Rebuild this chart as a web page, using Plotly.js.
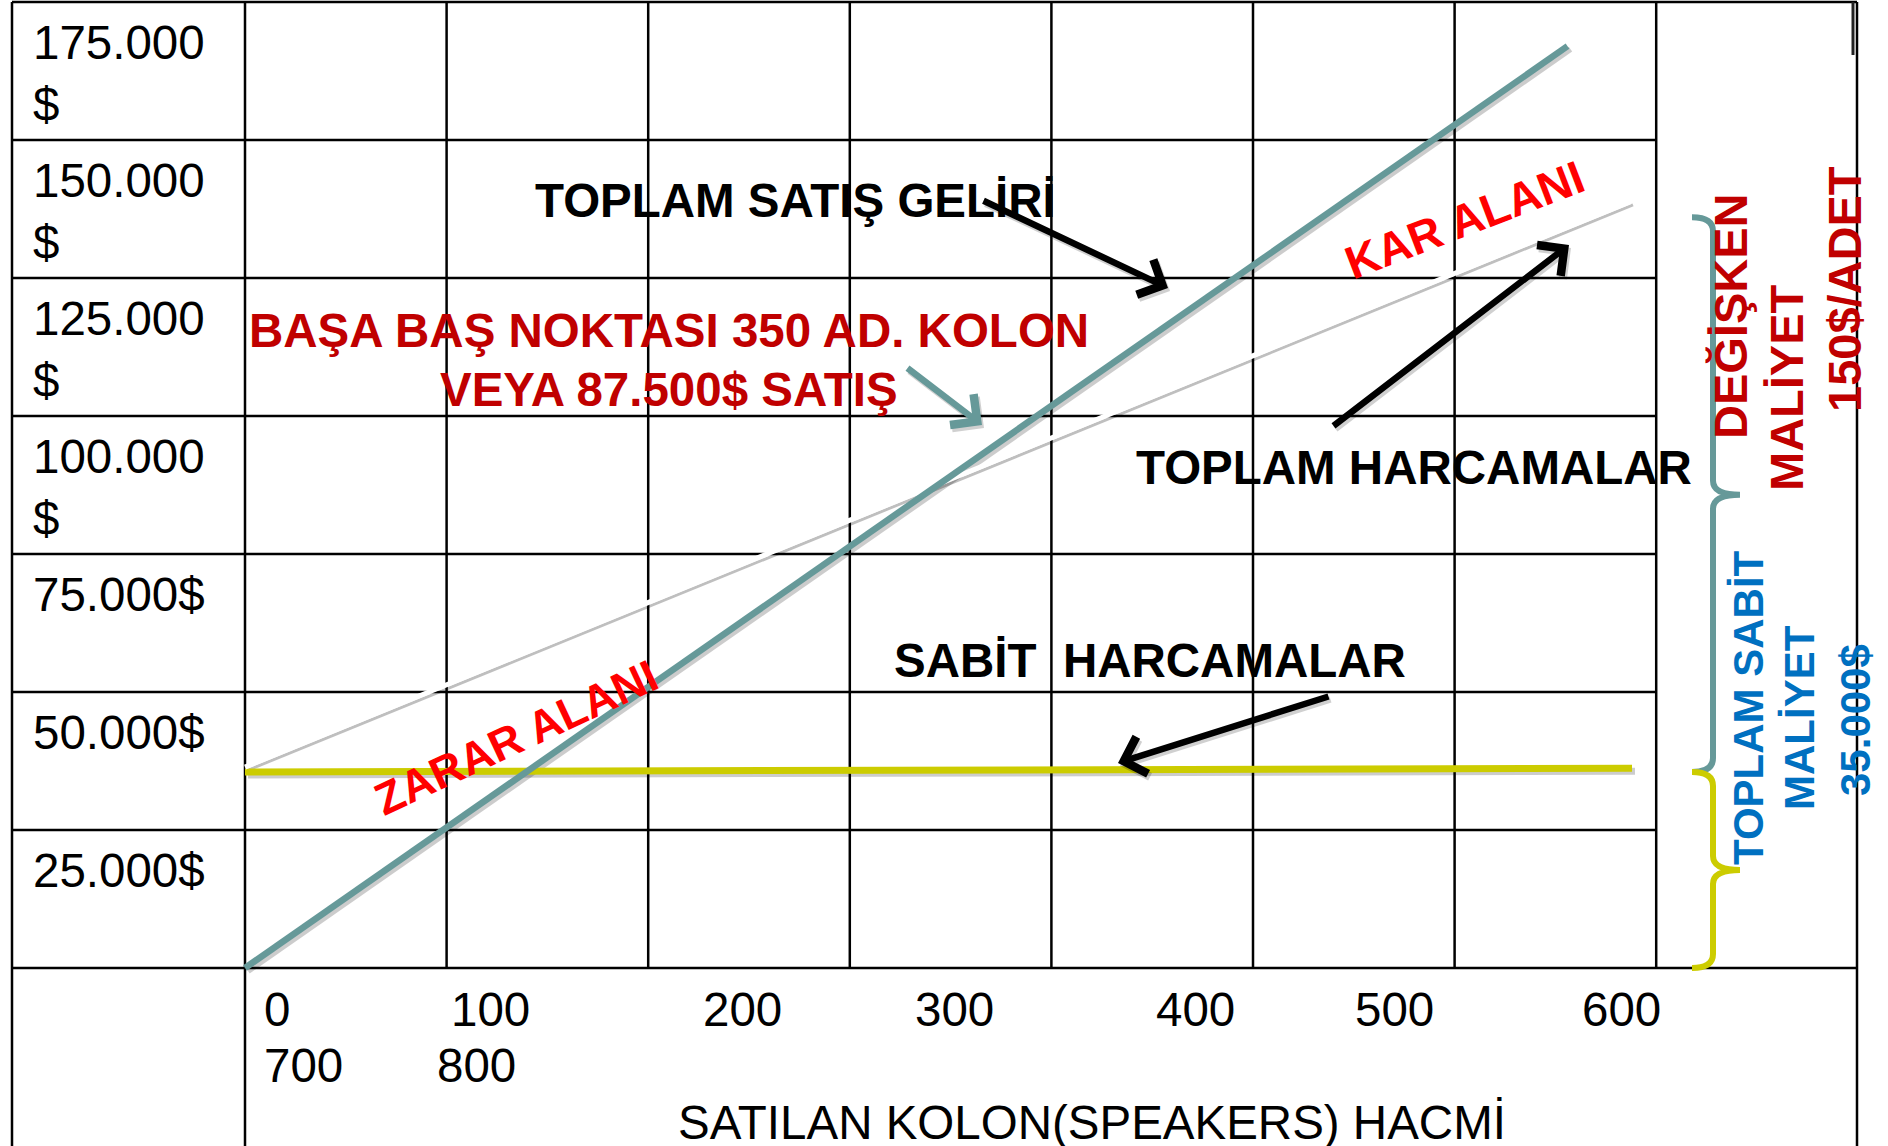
<!DOCTYPE html>
<html><head><meta charset="utf-8">
<script src="https://cdn.plot.ly/plotly-3.0.1.min.js"></script>
<style>html,body{margin:0;padding:0;background:#fff;overflow:hidden;} #chart{width:1888px;height:1146px;}</style>
</head><body><div id="chart"></div>
<script>
// ---------------- data ----------------
const yTickVals = [175000, 150000, 125000, 100000, 75000, 50000, 25000];
const yTickText = ['175.000<br>$', '150.000<br>$', '125.000<br>$', '100.000<br>$', '75.000$', '50.000$', '25.000$'];
const xTickText = ['0', '100', '200', '300', '400', '500', '600'];
const xTickText2 = ['700', '800'];
const xAxisTitle = 'SATILAN KOLON(SPEAKERS) HACMİ';
const xGridVals = [0, 100, 200, 300, 400, 500, 600, 700];
const yGridVals = [0, 25000, 50000, 75000, 100000, 125000, 150000, 175000];
const revenueX = [0, 656];
const revenueY = [0, 167000];
const totalCostX = [0, 687];
const totalCostY = [36400, 138800];
const fixedCostX = [0, 688];
const fixedCostY = [35500, 36200];
const fixedBraceRange = [0, 35500];
const variableBraceRange = [35500, 136000];

// ---------------- layout helpers ----------------
const W = 1888, H = 1146;
const X0 = 245, PPX = 201.6 / 100;   // px per x unit
const Y0 = 968, PPY = 138 / 25000;   // px per y unit
const px2x = p => (p - X0) / PPX;
const py2y = p => (Y0 - p) / PPY;
const xr = [px2x(0), px2x(W)], yr = [py2y(H), py2y(0)];
const XL = px2x(12), XR = px2x(1857), YB = py2y(H + 20), YT = 175000;
const SH = 3; // shadow offset px
const FONT = 'Liberation Sans, Arial, sans-serif';
const TEAL = '#669999', OLIVE = '#CCCC00', DRED = '#C00000', RED = '#FF0000', BLUE = '#0070C0';

// ---------------- shapes (table grid) ----------------
const shapes = [];
const gl = {color: '#000', width: 2.5};
const ref = {xref: 'x2', yref: 'y2', layer: 'below', type: 'line'};
xGridVals.forEach(v => shapes.push(Object.assign({}, ref, {x0: v, x1: v, y0: v === 0 ? YB : 0, y1: YT, line: gl})));
yGridVals.forEach(v => shapes.push(Object.assign({}, ref, {x0: XL, x1: (v === 0 || v === YT) ? XR : 700, y0: v, y1: v, line: gl})));
shapes.push(Object.assign({}, ref, {x0: XL, x1: XL, y0: YB, y1: YT, line: gl}));
shapes.push(Object.assign({}, ref, {x0: XR, x1: XR, y0: YB, y1: YT, line: gl}));
shapes.push(Object.assign({}, ref, {x0: px2x(1853), x1: px2x(1853), y0: py2y(55), y1: YT, line: {color: '#222', width: 3}}));

function bracePath(yBot, yTop) {
  const xL = px2x(1692), xM = px2x(1713), xT = px2x(1740);
  const yMid = (yTop + yBot) / 2, d = 14 / PPY;
  return `M${xL},${yTop} Q${xM},${yTop} ${xM},${yTop - d} L${xM},${yMid + d} Q${xM},${yMid} ${xT},${yMid} ` +
         `Q${xM},${yMid} ${xM},${yMid - d} L${xM},${yBot + d} Q${xM},${yBot} ${xL},${yBot}`;
}
shapes.push({type: 'path', xref: 'x2', yref: 'y2', layer: 'above', path: bracePath(variableBraceRange[0], variableBraceRange[1]), line: {color: TEAL, width: 6}});
shapes.push({type: 'path', xref: 'x2', yref: 'y2', layer: 'above', path: bracePath(fixedBraceRange[0], fixedBraceRange[1]), line: {color: OLIVE, width: 6}});

// ---------------- traces ----------------
const base = {mode: 'lines', hoverinfo: 'skip', showlegend: false};
const traces = [
  Object.assign({}, base, {x: fixedCostX, y: fixedCostY, xaxis: 'x', yaxis: 'y', line: {color: 'rgba(0,0,0,0.2)', width: 7}}),
  Object.assign({}, base, {x: totalCostX, y: totalCostY, xaxis: 'x', yaxis: 'y', line: {color: 'rgba(0,0,0,0.25)', width: 3}}),
  Object.assign({}, base, {x: revenueX, y: revenueY, xaxis: 'x', yaxis: 'y', line: {color: 'rgba(0,0,0,0.2)', width: 6}}),
  Object.assign({}, base, {x: fixedCostX, y: fixedCostY, xaxis: 'x2', yaxis: 'y2', line: {color: OLIVE, width: 7}}),
  Object.assign({}, base, {x: totalCostX, y: totalCostY, xaxis: 'x2', yaxis: 'y2', line: {color: '#FFFFFF', width: 5}}),
  Object.assign({}, base, {x: revenueX, y: revenueY, xaxis: 'x2', yaxis: 'y2', line: {color: TEAL, width: 6.5}})
];

// ---------------- annotations ----------------
const ann = [];
const px = p => p / W, py = p => 1 - p / H;
const txt = (o) => Object.assign({showarrow: false, borderpad: 0, borderwidth: 0}, o);

yTickVals.forEach((v, i) => ann.push(txt({xref: 'paper', yref: 'y2', x: px(33), y: v, xanchor: 'left', yanchor: 'top', yshift: -14, align: 'left',
  text: yTickText[i], font: {family: FONT, size: 47.5, color: '#000'}})));

const xLabelLeftPx = [264, 451, 703, 915, 1156, 1355, 1582];
const xLabel2LeftPx = [264, 437];
xTickText.forEach((t, i) => ann.push(txt({xref: 'paper', yref: 'y2', x: px(xLabelLeftPx[i]), y: 0, xanchor: 'left', yanchor: 'top', yshift: -15,
  text: t, font: {family: FONT, size: 47.5, color: '#000'}})));
xTickText2.forEach((t, i) => ann.push(txt({xref: 'paper', yref: 'y2', x: px(xLabel2LeftPx[i]), y: 0, xanchor: 'left', yanchor: 'top', yshift: -71,
  text: t, font: {family: FONT, size: 47.5, color: '#000'}})));
ann.push(txt({xref: 'paper', yref: 'y2', x: px(678), y: 0, xanchor: 'left', yanchor: 'top', yshift: -128,
  text: xAxisTitle, font: {family: FONT, size: 47.5, color: '#000'}}));

const labels = [
  {t: 'TOPLAM SATIŞ GELİRİ', x: 795, y: 200, c: '#000', s: 47.5},
  {t: 'BAŞA BAŞ NOKTASI 350 AD. KOLON', x: 669, y: 330, c: DRED, s: 47.5},
  {t: 'VEYA 87.500$ SATIŞ', x: 669, y: 389, c: DRED, s: 47.5},
  {t: 'TOPLAM HARCAMALAR', x: 1414, y: 467, c: '#000', s: 47.5},
  {t: 'SABİT\u00a0\u00a0HARCAMALAR', x: 1150, y: 660, c: '#000', s: 47.5},
  {t: 'KAR ALANI', x: 1464, y: 220, c: RED, s: 46, a: -21},
  {t: 'ZARAR ALANI', x: 516, y: 737, c: RED, s: 45, a: -25},
  {t: 'DEĞİŞKEN', x: 1730, y: 316, c: DRED, s: 47, a: -90},
  {t: 'MALİYET', x: 1786, y: 388, c: DRED, s: 47, a: -90},
  {t: '150$/ADET', x: 1845, y: 289, c: DRED, s: 47, a: -90},
  {t: 'TOPLAM SABİT', x: 1748, y: 708, c: BLUE, s: 42, a: -90},
  {t: 'MALİYET', x: 1799, y: 718, c: BLUE, s: 42, a: -90},
  {t: '35.000$', x: 1855, y: 720, c: BLUE, s: 42, a: -90}
];
labels.forEach(l => ann.push(txt({xref: 'paper', yref: 'paper', x: px(l.x), y: py(l.y), xanchor: 'center', yanchor: 'middle',
  text: '<b>' + l.t + '</b>', textangle: l.a || 0, font: {family: FONT, size: l.s, color: l.c}})));

const arrows = [
  {tip: [1168, 288], tail: [982, 200], c: '#000'},
  {tip: [1569, 245], tail: [1332, 427], c: '#000'},
  {tip: [1118, 763], tail: [1330, 696], c: '#000'},
  {tip: [982, 425], tail: [906, 367], c: TEAL}
];
arrows.forEach(a => {
  const common = {xref: 'paper', yref: 'paper', x: px(a.tip[0]), y: py(a.tip[1]), ax: a.tail[0] - a.tip[0], ay: a.tail[1] - a.tip[1],
    text: '', showarrow: true, arrowhead: 4, arrowsize: 1.15, arrowwidth: 6.5, standoff: 0, startstandoff: 0};
  ann.push(Object.assign({}, common, {arrowcolor: 'rgba(0,0,0,0.18)', xshift: 2, yshift: -3}));
  ann.push(Object.assign({}, common, {arrowcolor: a.c}));
});

const hidden = {visible: false, showgrid: false, zeroline: false, fixedrange: true};
const layout = {
  width: W, height: H, margin: {l: 0, r: 0, t: 0, b: 0, pad: 0},
  paper_bgcolor: '#fff', plot_bgcolor: 'rgba(0,0,0,0)', showlegend: false,
  xaxis: Object.assign({}, hidden, {range: [xr[0] - SH / PPX, xr[1] - SH / PPX]}),
  yaxis: Object.assign({}, hidden, {range: [yr[0] + SH / PPY, yr[1] + SH / PPY]}),
  xaxis2: Object.assign({}, hidden, {range: xr, overlaying: 'x', anchor: 'y2'}),
  yaxis2: Object.assign({}, hidden, {range: yr, overlaying: 'y', anchor: 'x2'}),
  shapes: shapes, annotations: ann
};
Plotly.newPlot('chart', traces, layout, {staticPlot: true, displayModeBar: false});
</script></body></html>
